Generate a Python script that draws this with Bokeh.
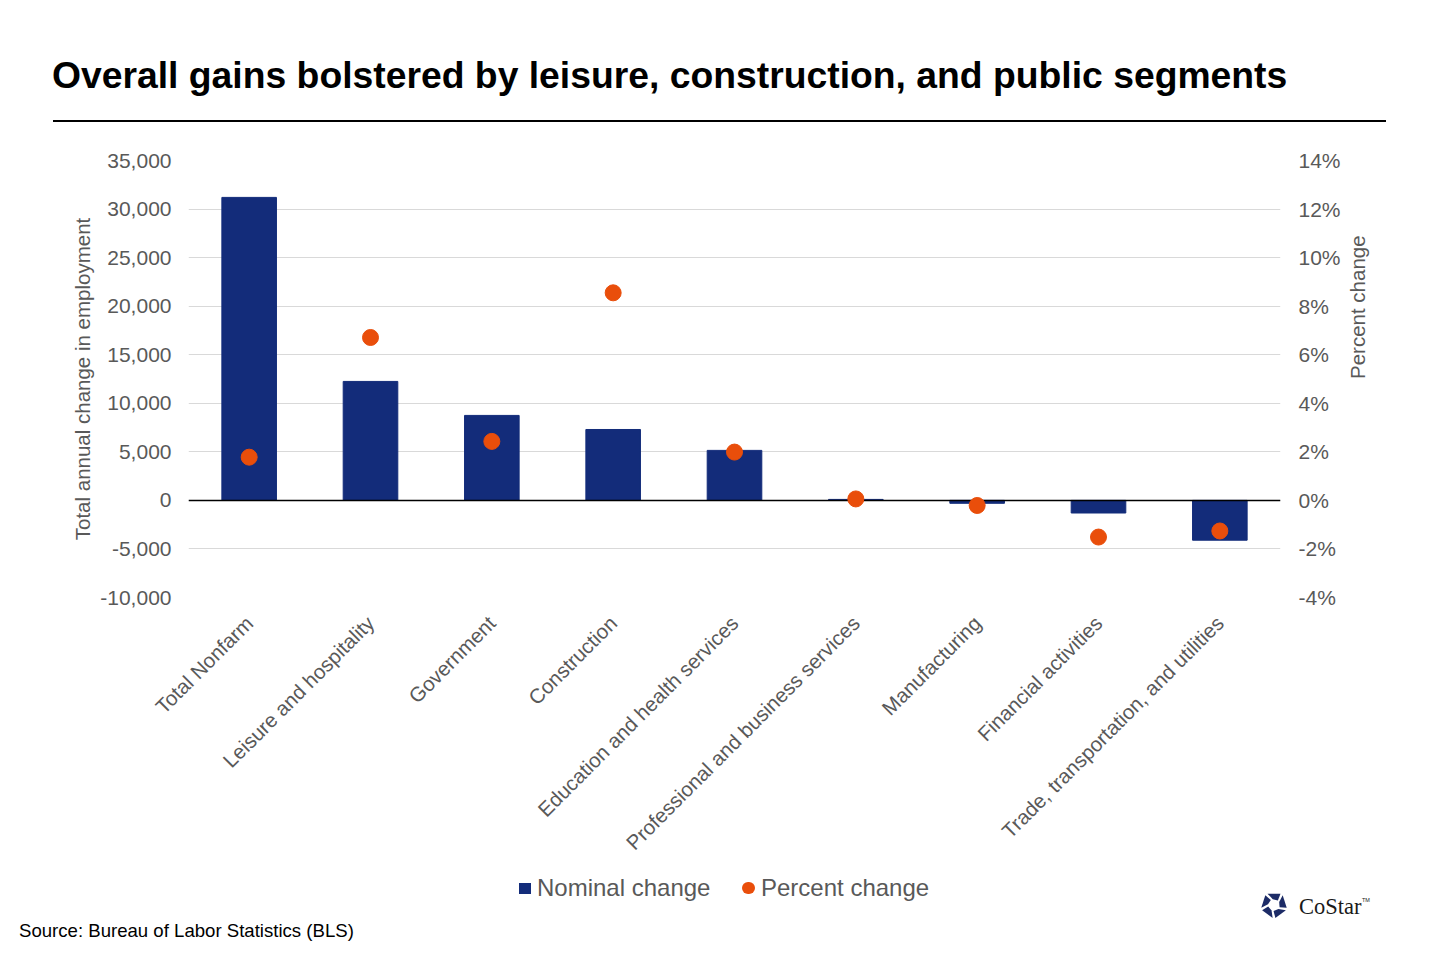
import numpy as np
from math import pi
from bokeh.plotting import figure
from bokeh.models import (Range1d, FactorRange, LinearAxis, FixedTicker, NumeralTickFormatter,
                          PrintfTickFormatter, Div)
from bokeh.layouts import column
from bokeh.embed import file_html
from bokeh.resources import INLINE

# ---------------- data ----------------
title_text = "Overall gains bolstered by leisure, construction, and public segments"
categories = [
    "Total Nonfarm",
    "Leisure and hospitality",
    "Government",
    "Construction",
    "Education and health services",
    "Professional and business services",
    "Manufacturing",
    "Financial activities",
    "Trade, transportation, and utilities",
]
nominal_change = [31200, 12250, 8750, 7300, 5150, 100, -300, -1300, -4100]
percent_change = [1.78, 6.71, 2.43, 8.55, 1.99, 0.06, -0.21, -1.51, -1.26]
left_ticks = [-10000, -5000, 0, 5000, 10000, 15000, 20000, 25000, 30000, 35000]
right_ticks = [-4, -2, 0, 2, 4, 6, 8, 10, 12, 14]
left_axis_title = "Total annual change in employment"
right_axis_title = "Percent change"
series_names = ["Nominal change", "Percent change"]
source_note = "Source: Bureau of Labor Statistics (BLS)"
brand_name = "CoStar"

# ---------------- style ----------------
NAVY = "#132c7a"
ORANGE = "#e94e0b"
GRAY = "#595959"
GRID = "#d9d9d9"
FONT = "Liberation Sans"
CSS_FONT = "'Liberation Sans', Arial, sans-serif"
W = 1424
H_HEAD, H_MAIN, H_FOOT = 140, 730, 82

# ---------------- header (title and rule) ----------------
header = Div(width=W, height=H_HEAD, margin=(0, 0, 0, 0), text=(
    f'<div style="position:relative;width:{W}px;height:{H_HEAD}px;font-family:{CSS_FONT};">'
    f'<div style="position:absolute;left:52px;top:56.9px;font-size:37.3px;line-height:37.3px;'
    f'font-weight:bold;color:#000;white-space:nowrap;">{title_text}</div>'
    f'<div style="position:absolute;left:53px;top:119.75px;width:1333px;height:2.5px;'
    f'background:#000;"></div></div>'))

# ---------------- main chart ----------------
p = figure(width=W, height=H_MAIN, x_range=FactorRange(*categories), y_range=Range1d(-10000, 35000),
           output_backend="svg", toolbar_location=None,
           min_border_left=188, min_border_right=W - 1280,
           min_border_top=20, min_border_bottom=273)
p.outline_line_color = None
p.background_fill_color = "white"
p.border_fill_color = "white"
p.extra_y_ranges = {"pct": Range1d(-4, 14)}

left = p.left[0]
left.ticker = FixedTicker(ticks=left_ticks)
left.formatter = NumeralTickFormatter(format="0,0")
left.axis_label = left_axis_title
left.axis_label_standoff = 3
left.major_label_standoff = 17

right = LinearAxis(y_range_name="pct", ticker=FixedTicker(ticks=right_ticks),
                   formatter=PrintfTickFormatter(format="%d%%"))
right.major_label_standoff = 18
p.add_layout(right, "right")

# a tick-less companion axis carries the right-hand title, read bottom-to-top
right_title = LinearAxis(y_range_name="pct", ticker=FixedTicker(ticks=[]),
                         bounds=(-4, 8.08), axis_label=right_axis_title)
right_title.major_label_standoff = 0
right_title.axis_label_standoff = 14
if "axis_label_orientation" in right_title.properties():
    right_title.axis_label_orientation = pi / 2
p.add_layout(right_title, "right")

xax = p.below[0]
for ax in [left, right, right_title, xax]:
    ax.axis_line_color = None
    ax.major_tick_line_color = None
    ax.minor_tick_line_color = None
    ax.major_tick_out = 0
    ax.major_tick_in = 0
    ax.minor_tick_out = 0
    ax.minor_tick_in = 0
    ax.major_label_text_font = FONT
    ax.major_label_text_font_size = "21px"
    ax.major_label_text_color = GRAY
    ax.axis_label_text_font = FONT
    ax.axis_label_text_font_size = "20.5px"
    ax.axis_label_text_font_style = "normal"
    ax.axis_label_text_color = GRAY

xax.major_label_orientation = pi / 4
xax.major_label_standoff = 22
xax.major_label_text_font_size = "20.5px"

p.xgrid.visible = False
p.ygrid.grid_line_color = GRID
p.ygrid.grid_line_width = 1

bars = p.vbar(x=categories, top=nominal_change, width=0.45, color=NAVY)
p.hspan(y=[0], line_color="black", line_width=1.5)
dots = p.scatter(x=categories, y=percent_change, y_range_name="pct", size=16, color=ORANGE)

# ---------------- footer: legend key, source, brand ----------------
pieces = []
for k in range(5):
    a = np.deg2rad(-90 + 72 * k)
    pts = [(13, a - np.deg2rad(30)), (13, a + np.deg2rad(30)),
           (6, a + np.deg2rad(40)), (6, a - np.deg2rad(12))]
    pieces.append(" ".join(f"{15 + r * np.cos(t):.2f},{15 + r * np.sin(t):.2f}" for r, t in pts))
icon_svg = ('<svg width="30" height="30" viewBox="0 0 30 30" '
            'style="position:absolute;left:1259px;top:20px;">'
            + "".join(f'<polygon points="{pt}" fill="#1c2b66"/>' for pt in pieces)
            + '</svg>')

footer = Div(width=W, height=H_FOOT, margin=(0, 0, 0, 0), text=(
    f'<div style="position:relative;width:{W}px;height:{H_FOOT}px;font-family:{CSS_FONT};'
    f'white-space:nowrap;">'
    f'<div style="position:absolute;left:519.3px;top:13.3px;width:11.5px;height:11px;'
    f'background:{NAVY};"></div>'
    f'<div style="position:absolute;left:537px;top:6.4px;font-size:24px;line-height:24px;'
    f'color:{GRAY};">{series_names[0]}</div>'
    f'<div style="position:absolute;left:742px;top:11.75px;width:12.5px;height:12.5px;'
    f'border-radius:50%;background:{ORANGE};"></div>'
    f'<div style="position:absolute;left:761px;top:6.4px;font-size:24px;line-height:24px;'
    f'color:{GRAY};">{series_names[1]}</div>'
    f'<div style="position:absolute;left:19px;top:51.6px;font-size:18.6px;line-height:18.6px;'
    f'color:#000;">{source_note}</div>'
    + icon_svg +
    f'<div style="position:absolute;left:1299px;top:26.15px;font-family:\'Liberation Serif\',serif;'
    f'font-size:22.5px;line-height:22.5px;color:#1a1a1a;">{brand_name}</div>'
    f'<div style="position:absolute;left:1362px;top:28px;font-size:5.5px;line-height:5.5px;'
    f'color:#1a1a1a;">TM</div>'
    f'</div>'))

layout = column(header, p, footer, spacing=0)
open("out.html", "w").write(file_html(layout, INLINE))
